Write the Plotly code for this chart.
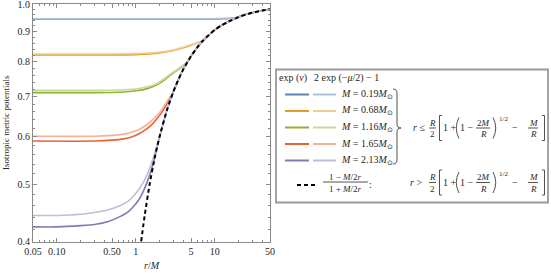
import math
import plotly.graph_objects as go

# ---------------- data ----------------
# exterior solution (1 - M/2r)/(1 + M/2r), sampled values
ext_r = [1.17, 1.3, 1.5, 1.75, 2.0, 2.5, 3.0, 3.5, 4.0, 5.0, 6.0, 7.0, 8.0, 10.0, 12.0, 15.0, 20.0, 25.0, 30.0, 40.0, 50.0]
ext_v = [0.401, 0.444, 0.500, 0.556, 0.600, 0.667, 0.714, 0.750, 0.778, 0.818, 0.846, 0.867, 0.882, 0.905, 0.920, 0.935, 0.951, 0.961, 0.967, 0.975, 0.980]

mass_labels = ["0.19", "0.68", "1.16", "1.65", "2.13"]

r_m019 = [0.05, 0.5, 2.0, 5.0, 8.0, 11.0, 14.0, 16.5, 18.5]
nu_m019 = [0.943, 0.943, 0.943, 0.9433, 0.9438, 0.9445, 0.9452, 0.946, 0.947]
mu_m019 = [0.944, 0.944, 0.944, 0.9443, 0.9447, 0.9452, 0.9458, 0.9464, 0.947]

r_m068 = [0.05, 0.5, 1.0, 1.5, 2.0, 3.0, 4.0, 5.0, 6.0, 7.2]
nu_m068 = [0.822, 0.822, 0.823, 0.825, 0.828, 0.836, 0.845, 0.853, 0.861, 0.869]
mu_m068 = [0.825, 0.825, 0.826, 0.828, 0.831, 0.838, 0.847, 0.855, 0.862, 0.869]

r_m116 = [0.05, 0.3, 0.6, 1.0, 1.4, 1.8, 2.3, 2.8, 3.4, 4.0, 4.5]
nu_m116 = [0.711, 0.711, 0.712, 0.716, 0.722, 0.731, 0.746, 0.762, 0.776, 0.789, 0.800]
mu_m116 = [0.717, 0.717, 0.718, 0.721, 0.727, 0.735, 0.750, 0.765, 0.778, 0.790, 0.800]

r_m165 = [0.05, 0.3, 0.5, 0.7, 0.9, 1.1, 1.35, 1.6, 1.85, 2.1, 2.4, 2.7, 2.97]
nu_m165 = [0.590, 0.590, 0.592, 0.595, 0.600, 0.607, 0.617, 0.629, 0.643, 0.657, 0.676, 0.694, 0.712]
mu_m165 = [0.601, 0.601, 0.603, 0.606, 0.611, 0.617, 0.627, 0.639, 0.651, 0.664, 0.682, 0.699, 0.712]

r_m213 = [0.05, 0.1, 0.2, 0.3, 0.45, 0.63, 0.8, 0.93, 1.1, 1.245, 1.45, 1.67, 1.85, 2.05]
nu_m213 = [0.424, 0.424, 0.426, 0.428, 0.433, 0.441, 0.449, 0.458, 0.471, 0.486, 0.511, 0.543, 0.573, 0.607]
mu_m213 = [0.443, 0.443, 0.445, 0.448, 0.453, 0.460, 0.468, 0.477, 0.490, 0.503, 0.525, 0.554, 0.580, 0.607]

x_ticks = [0.05, 0.1, 0.5, 1, 5, 10, 50]
x_ticklabels = ["0.05", "0.10", "0.50", "1", "5", "10", "50"]
y_ticks = [0.4, 0.5, 0.6, 0.7, 0.8, 0.9, 1.0]
y_ticklabels = ["0.4", "0.5", "0.6", "0.7", "0.8", "0.9", "1.0"]

# ---------------- styling ----------------
dark_colors = ["#5E81B5", "#E19C24", "#8FB032", "#EB6235", "#8778B3"]
light_colors = ["#AFC0DA", "#F0CE92", "#C7D899", "#F5B19A", "#C3BCD9"]
FONT = "Liberation Serif"
TXT = "#262626"
AX = "#8a8a8a"

radii = [r_m019, r_m068, r_m116, r_m165, r_m213]
nus = [nu_m019, nu_m068, nu_m116, nu_m165, nu_m213]
mus = [mu_m019, mu_m068, mu_m116, mu_m165, mu_m213]


def with_exterior(r, v):
    rr = list(r)
    vv = list(v)
    for x, y in zip(ext_r, ext_v):
        if x > r[-1] * 1.03:
            rr.append(x)
            vv.append(y)
    return rr, vv


fig = go.Figure()
for i in range(5):
    rr, vv = with_exterior(radii[i], nus[i])
    fig.add_trace(go.Scatter(x=rr, y=vv, mode="lines", line=dict(color=dark_colors[i], width=1.6, shape="spline", smoothing=0.7), hoverinfo="skip"))
    rr, vv = with_exterior(radii[i], mus[i])
    fig.add_trace(go.Scatter(x=rr, y=vv, mode="lines", line=dict(color=light_colors[i], width=1.6, shape="spline", smoothing=0.7), hoverinfo="skip"))

fig.add_trace(go.Scatter(x=ext_r, y=ext_v, mode="lines", line=dict(color="black", width=2, dash="4px,3px", shape="spline", smoothing=0.6), hoverinfo="skip"))

x_minor = [0.06, 0.07, 0.08, 0.09, 0.2, 0.3, 0.4, 0.6, 0.7, 0.8, 0.9, 2, 3, 4, 6, 7, 8, 9, 20, 30, 40]
y_minor = [0.42, 0.44, 0.46, 0.48, 0.52, 0.54, 0.56, 0.58, 0.62, 0.64, 0.66, 0.68,
           0.72, 0.74, 0.76, 0.78, 0.82, 0.84, 0.86, 0.88, 0.92, 0.94, 0.96, 0.98]

L, R, T, B = 33, 270, 4, 242
W, H = 551, 274

fig.update_layout(
    width=W, height=H,
    margin=dict(l=L, r=W - R, t=T, b=H - B, pad=0, autoexpand=False),
    paper_bgcolor="white", plot_bgcolor="white",
    showlegend=False,
    font=dict(family=FONT, size=10, color=TXT),
)
common = dict(type="log", ticks="inside", ticklen=4, tickwidth=1, tickcolor=AX, automargin=False,
              showline=True, linecolor=AX, linewidth=1, mirror="ticks", ticklabeloverflow="allow",
              showgrid=False, zeroline=False, tickfont=dict(family=FONT, size=10, color=TXT))
fig.update_xaxes(range=[math.log10(0.05) - 1e-5, math.log10(50) + 1e-5], tickmode="array", tickvals=x_ticks, ticktext=x_ticklabels,
                 minor=dict(tickmode="array", tickvals=x_minor, ticks="inside", ticklen=2, tickcolor=AX, showgrid=False), **common)
fig.update_yaxes(range=[math.log10(0.4) - 1e-5, 1e-5], tickmode="array", tickvals=y_ticks, ticktext=y_ticklabels,
                 minor=dict(tickmode="array", tickvals=y_minor, ticks="inside", ticklen=2, tickcolor=AX, showgrid=False), **common)


def P(px, py):
    return (px - L) / (R - L), (B - py) / (B - T)


def txt(px, py, s, size=10, anchor="center", angle=0, color=TXT):
    x, y = P(px, py)
    fig.add_annotation(x=x, y=y, xref="paper", yref="paper", text=s, showarrow=False,
                       xanchor=anchor, yanchor="middle", textangle=angle,
                       font=dict(family=FONT, size=size, color=color), borderpad=0)


def line(x0, y0, x1, y1, color=TXT, width=0.8, dash=None):
    a, b = P(x0, y0)
    c, d = P(x1, y1)
    ln = dict(color=color, width=width)
    if dash:
        ln["dash"] = dash
    fig.add_shape(type="line", xref="paper", yref="paper", x0=a, y0=b, x1=c, y1=d, line=ln)


def path(cmds, color=TXT, width=0.8):
    out = []
    for c in cmds:
        if isinstance(c, str):
            out.append(c)
        else:
            x, y = P(*c)
            out.append(f"{x:.5f},{y:.5f}")
    fig.add_shape(type="path", xref="paper", yref="paper", path=" ".join(out), line=dict(color=color, width=width))


# axis titles
txt(6, 123, "Isotropic metric potentials", size=9, angle=-90)
txt(152, 265, "<i>r</i>/<i>M</i>", size=10)

# legend box
a, b = P(276, 69.5)
c, d = P(548, 202.5)
fig.add_shape(type="rect", xref="paper", yref="paper", x0=a, y0=b, x1=c, y1=d,
              line=dict(color="#9a9a9a", width=1.8), fillcolor="white", layer="above")

txt(278, 77.5, "exp (<i>ν</i>)", size=10, anchor="left")
txt(313, 77.5, "2 exp (−<i>μ</i>/2) − 1", size=10, anchor="left")

row_y = [94.5, 111.0, 127.5, 144.0, 160.5]
for i in range(5):
    y = row_y[i]
    line(285, y, 309, y, color=dark_colors[i], width=2)
    line(313, y, 336, y, color=light_colors[i], width=2)
    txt(340, y, f"<i>M</i> = {mass_labels[i]}<i>M</i><sub>⊙</sub>", size=10, anchor="left")

# curly brace
path(["M", (393, 89), "Q", (397, 89), (397, 93), "L", (397, 124), "Q", (397, 128), (401, 128),
      "Q", (397, 128), (397, 132), "L", (397, 160), "Q", (397, 164), (393, 164)])


def condition(yc, rel, rel_x):
    txt(rel_x, yc, "<i>r</i> " + rel, size=10)
    # R/2
    txt(432.5, yc - 5.5, "<i>R</i>", size=9)
    line(429, yc, 436, yc)
    txt(432.5, yc + 6, "2", size=9)
    # [
    path(["M", (442, yc - 12.5), "L", (439.5, yc - 12.5), "L", (439.5, yc + 12.5), "L", (442, yc + 12.5)])
    txt(449.5, yc, "1 +", size=10)
    # (
    path(["M", (459, yc - 10.5), "Q", (453.5, yc), (459, yc + 10.5)])
    txt(467, yc, "1 −", size=10)
    txt(483, yc - 5.5, "2<i>M</i>", size=9)
    line(476, yc, 490, yc)
    txt(483, yc + 6, "<i>R</i>", size=9)
    # )
    path(["M", (493, yc - 10.5), "Q", (498.5, yc), (493, yc + 10.5)])
    txt(503.5, yc - 9, "1/2", size=7)
    txt(515, yc, "−", size=10)
    txt(533, yc - 5.5, "<i>M</i>", size=9)
    line(528, yc, 538, yc)
    txt(533, yc + 6, "<i>R</i>", size=9)
    # ]
    path(["M", (542, yc - 12.5), "L", (544.5, yc - 12.5), "L", (544.5, yc + 12.5), "L", (542, yc + 12.5)])


condition(128.0, "≤", 418.5)
condition(182.5, ">", 415.5)

# exterior legend row
line(297, 185, 318, 185, color="black", width=2, dash="4px,3px")
txt(345.5, 176.5, "1 − <i>M</i>/2<i>r</i>", size=9)
line(323, 182, 368, 182)
txt(345.5, 188.5, "1 + <i>M</i>/2<i>r</i>", size=9)
txt(370, 184, ":", size=10)

fig.write_html("out.html", config={"displayModeBar": False},
               post_script="document.body.style.margin='0px';document.body.style.overflow='hidden';")
